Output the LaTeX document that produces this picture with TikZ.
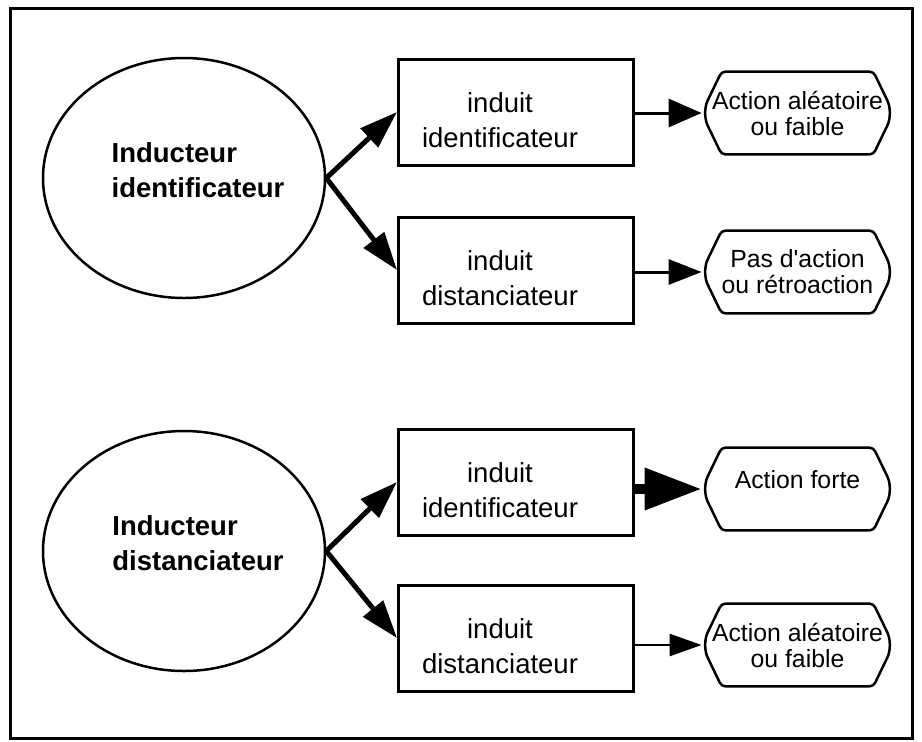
\documentclass[tikz,border=0pt]{standalone}
\usepackage{fontspec}
\setmainfont{Liberation Sans}
\usetikzlibrary{positioning,shapes.geometric,arrows.meta}

\begin{document}
\begin{tikzpicture}[x=0.5pt, y=-0.5pt,
    inducteur/.style = {ellipse, draw, line width=1.25pt,
      minimum width=141pt, minimum height=120pt},
    induit/.style = {rectangle, draw, line width=1.5pt,
      minimum width=117.5pt, minimum height=53pt},
    effet/.style = {rectangle, inner sep=0pt,
      minimum width=95.5pt, minimum height=41pt, align=center,
      font=\fontsize{12.4}{13}\selectfont},
    texte/.style = {align=center, inner sep=0pt,
      font=\fontsize{13.75}{17.5}\selectfont},
    gras/.style = {align=left, inner sep=0pt,
      font=\fontsize{13.75}{17.5}\selectfont\bfseries},
    bord/.style = {line width=1.25pt},
    branche/.style = {line width=2.5pt, -{Triangle[length=19pt, width=12.5pt]}}
  ]
  \useasboundingbox (0,0) rectangle (922,741);
  \draw [line width=1.5pt] (10,8) rectangle (912,738);

  % inducteurs
  \node (e1) [inducteur] at (184,178) {};
  \node (e2) [inducteur] at (184,551) {};
  \node (e1-txt) [gras] at ([shift={(14,-8)}]e1) {Inducteur\\identificateur};
  \node (e2-txt) [gras] at ([shift={(14,-8)}]e2) {Inducteur\\distanciateur};

  % induits
  \node (b1) [induit] at (516,112) {};
  \node (b2) [induit] at (516,270) {};
  \node (b3) [induit] at (516,482) {};
  \node (b4) [induit] at (516,638) {};
  \node (b1-txt) [texte] at ([shift={(-16,8)}]b1) {induit\\identificateur};
  \node (b2-txt) [texte] at ([shift={(-16,8)}]b2) {induit\\distanciateur};
  \node (b3-txt) [texte] at ([shift={(-16,8)}]b3) {induit\\identificateur};
  \node (b4-txt) [texte] at ([shift={(-16,8)}]b4) {induit\\distanciateur};

  % effets
  \node (t1) [effet] at (797.5,113) {Action aléatoire\\ou faible};
  \node (t2) [effet] at (797.5,272) {Pas d\textquotesingle action\\ou rétroaction};
  \node (t3) [effet] at (797.5,489) {\raisebox{4.5pt}[\height][\depth]{Action forte}};
  \node (t4) [effet] at (797.5,645) {Action aléatoire\\ou faible};
  \foreach \i in {1,...,4} {
    \draw [bord] (t\i.north) [rounded corners=2pt]
      -- ([xshift=-10pt]t\i.north east) [rounded corners=7pt]
      -- (t\i.east) [rounded corners=2pt]
      -- ([xshift=-10pt]t\i.south east)
      -- ([xshift=10pt]t\i.south west) [rounded corners=7pt]
      -- (t\i.west) [rounded corners=2pt]
      -- ([xshift=10pt]t\i.north west) [sharp corners]
      -- cycle;
  }

  \foreach \a/\b in {e1/b1, e1/b2, e2/b3, e2/b4} {
    \draw [branche] (\a.east) -- (\b.west);
  }
  \draw [line width=1.5pt, -{Triangle[length=16.5pt, width=14pt]}] (b1.east |- t1) -- (t1.west);
  \draw [line width=1.5pt, -{Triangle[length=16.5pt, width=12.5pt]}] (b2.east |- t2) -- (t2.west);
  \draw [line width=5pt, -{Triangle[length=28.5pt, width=20pt]}] (b3.east |- t3) -- (t3.west);
  \draw [line width=1.25pt, -{Triangle[length=16pt, width=11pt]}] (b4.east |- t4) -- (t4.west);
\end{tikzpicture}
\end{document}
